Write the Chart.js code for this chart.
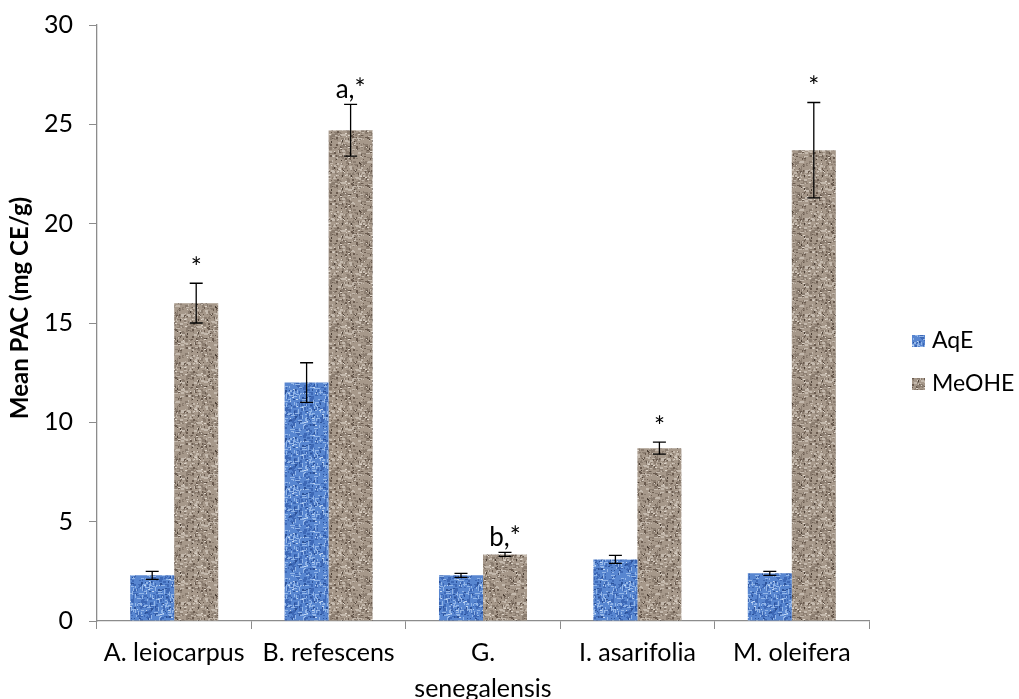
<!DOCTYPE html>
<html>
<head>
<meta charset="utf-8">
<script src="https://cdn.jsdelivr.net/npm/chart.js@4"></script>
<style>
  html, body { margin: 0; padding: 0; background: #ffffff; }
  #wrap { width: 1019px; height: 699px; }
</style>
</head>
<body>
<div id="wrap"><canvas id="c" width="1019" height="699"></canvas></div>
<script>
// Plant extracts (x categories); array entries wrap onto two lines
const categories = ['A. leiocarpus', 'B. refescens', ['G.', 'senegalensis'], 'I. asarifolia', 'M. oleifera'];
const seriesNames = ['AqE', 'MeOHE'];

// Mean PAC (mg CE/g) and standard errors
const aqeValues = [2.3, 12.0, 2.3, 3.1, 2.4];
const aqeErrors = [0.2, 1.0, 0.1, 0.2, 0.1];
const meoheValues = [16.0, 24.7, 3.35, 8.7, 23.7];
const meoheErrors = [1.0, 1.3, 0.1, 0.3, 2.4];

// Significance marks above the MeOHE bars
const meoheMarks = ['*', 'a,*', 'b,*', '*', '*'];

// Y axis tick values and title
const yTicks = [0, 5, 10, 15, 20, 25, 30];
const yTitle = 'Mean PAC (mg CE/g)';

const FONT = 'Lato, "Open Sans", sans-serif';
const AXIS_GREY = '#8c8c8c';

const canvas = document.getElementById('c');
const ctx = canvas.getContext('2d');

// Small seeded, softly blurred texture tiles for the bar fills
function makeTexture(base, specks, seed, size, blur) {
  const raw = document.createElement('canvas');
  raw.width = size; raw.height = size;
  const g = raw.getContext('2d');
  g.fillStyle = base;
  g.fillRect(0, 0, size, size);
  let s = seed >>> 0;
  const rnd = () => ((s = (Math.imul(s, 1664525) + 1013904223) >>> 0) / 4294967296);
  specks.forEach(sp => {
    g.fillStyle = sp.color;
    for (let i = 0; i < sp.count; i++) {
      const w = sp.w[0] + Math.floor(rnd() * (sp.w[1] - sp.w[0] + 1));
      const h = sp.h[0] + Math.floor(rnd() * (sp.h[1] - sp.h[0] + 1));
      const x = Math.floor(rnd() * size);
      const y = Math.floor(rnd() * size);
      g.fillRect(x, y, w, h);
      if (x + w > size) g.fillRect(x - size, y, w, h);
      if (y + h > size) g.fillRect(x, y - size, w, h);
      if (x + w > size && y + h > size) g.fillRect(x - size, y - size, w, h);
    }
  });
  // blur a 3x3 repetition so the tile edges stay seamless
  const big = document.createElement('canvas');
  big.width = size * 3; big.height = size * 3;
  const bg = big.getContext('2d');
  bg.filter = 'blur(' + blur + 'px)';
  for (let i = 0; i < 3; i++) for (let j = 0; j < 3; j++) bg.drawImage(raw, i * size, j * size);
  const tile = document.createElement('canvas');
  tile.width = size; tile.height = size;
  tile.getContext('2d').drawImage(big, size, size, size, size, 0, 0, size, size);
  return ctx.createPattern(tile, 'repeat');
}

const blueWeave = makeTexture('#5886d0', [
  { color: '#3d68b6', count: 170, w: [1, 3], h: [1, 3] },
  { color: '#2c5299', count: 50, w: [1, 2], h: [1, 2] },
  { color: '#93b6e8', count: 70, w: [2, 4], h: [1, 1] },
  { color: '#93b6e8', count: 70, w: [1, 1], h: [2, 4] },
  { color: '#c2d7f3', count: 20, w: [1, 2], h: [1, 1] }
], 7, 48, 0.6);

const brownGranite = makeTexture('#a6988a', [
  { color: '#8b7d70', count: 200, w: [1, 3], h: [1, 3] },
  { color: '#6a5b4f', count: 80, w: [1, 2], h: [1, 2] },
  { color: '#4b3f35', count: 20, w: [1, 1], h: [1, 2] },
  { color: '#c4b9ad', count: 130, w: [1, 3], h: [1, 2] },
  { color: '#ddd4c9', count: 35, w: [1, 2], h: [1, 1] }
], 31, 48, 0.6);

const errorSets = [aqeErrors, meoheErrors];

// Draws the error bars and the significance marks
const errorBarPlugin = {
  id: 'errorBars',
  afterDatasetsDraw(chart) {
    const c = chart.ctx;
    const y = chart.scales.y;
    c.save();
    c.strokeStyle = '#000000';
    c.lineWidth = 1.3;
    chart.data.datasets.forEach((ds, di) => {
      const meta = chart.getDatasetMeta(di);
      meta.data.forEach((bar, i) => {
        const v = ds.data[i];
        const e = errorSets[di][i];
        const top = y.getPixelForValue(v + e);
        const bottom = y.getPixelForValue(v - e);
        const x = bar.x;
        c.beginPath();
        c.moveTo(x, top); c.lineTo(x, bottom);
        c.moveTo(x - 6.5, top); c.lineTo(x + 6.5, top);
        c.moveTo(x - 6.5, bottom); c.lineTo(x + 6.5, bottom);
        c.stroke();
        if (di === 1 && meoheMarks[i]) {
          c.fillStyle = '#000000';
          c.font = '26px ' + FONT;
          c.textAlign = 'center';
          c.textBaseline = 'alphabetic';
          c.fillText(meoheMarks[i], x, top - 6);
        }
      });
    });
    c.restore();
  }
};

// Rotated y axis title and the legend to the right of the plot
const sideTextPlugin = {
  id: 'sideText',
  afterDraw(chart) {
    const c = chart.ctx;
    c.save();
    c.translate(20, 308);
    c.rotate(-Math.PI / 2);
    c.font = 'bold 24px ' + FONT;
    c.fillStyle = '#000000';
    c.textAlign = 'center';
    c.textBaseline = 'middle';
    c.fillText(yTitle, 0, 0);
    c.restore();

    c.save();
    c.font = '23px ' + FONT;
    c.textAlign = 'left';
    c.textBaseline = 'middle';
    chart.data.datasets.forEach((ds, i) => {
      const cy = 341 + i * 43;
      c.fillStyle = ds.backgroundColor;
      c.fillRect(912, cy - 6, 13, 12);
      c.fillStyle = '#000000';
      c.fillText(ds.label, 932, cy);
    });
    c.restore();
  }
};

new Chart(ctx, {
  type: 'bar',
  data: {
    labels: categories,
    datasets: [
      { label: seriesNames[0], data: aqeValues, backgroundColor: blueWeave, borderWidth: 0 },
      { label: seriesNames[1], data: meoheValues, backgroundColor: brownGranite, borderWidth: 0 }
    ]
  },
  options: {
    responsive: false,
    animation: false,
    devicePixelRatio: 1,
    layout: { padding: { left: 0, top: 25, right: 150, bottom: 0 } },
    datasets: { bar: { categoryPercentage: 0.57, barPercentage: 1.0 } },
    plugins: {
      legend: { display: false },
      tooltip: { enabled: false }
    },
    scales: {
      x: {
        offset: true,
        grid: { display: true, drawOnChartArea: false, drawTicks: true, tickLength: 8, color: AXIS_GREY, offset: true },
        border: { display: true, color: AXIS_GREY, width: 1.3 },
        ticks: {
          color: '#000000',
          font: { family: FONT, size: 25, lineHeight: 1.45 },
          padding: 6,
          maxRotation: 0,
          autoSkip: false
        },
        afterFit(scale) { scale.height = 78; }
      },
      y: {
        min: 0,
        max: 30,
        afterBuildTicks(scale) { scale.ticks = yTicks.map(v => ({ value: v })); },
        grid: { display: true, drawOnChartArea: false, drawTicks: true, tickLength: 8, color: AXIS_GREY },
        border: { display: true, color: AXIS_GREY, width: 1.3 },
        ticks: {
          color: '#000000',
          font: { family: FONT, size: 25 },
          padding: 16
        },
        afterFit(scale) {
          scale.width = 97;
          scale.paddingTop = 0;
          scale.paddingBottom = 0;
        }
      }
    }
  },
  plugins: [errorBarPlugin, sideTextPlugin]
});
</script>
</body>
</html>
